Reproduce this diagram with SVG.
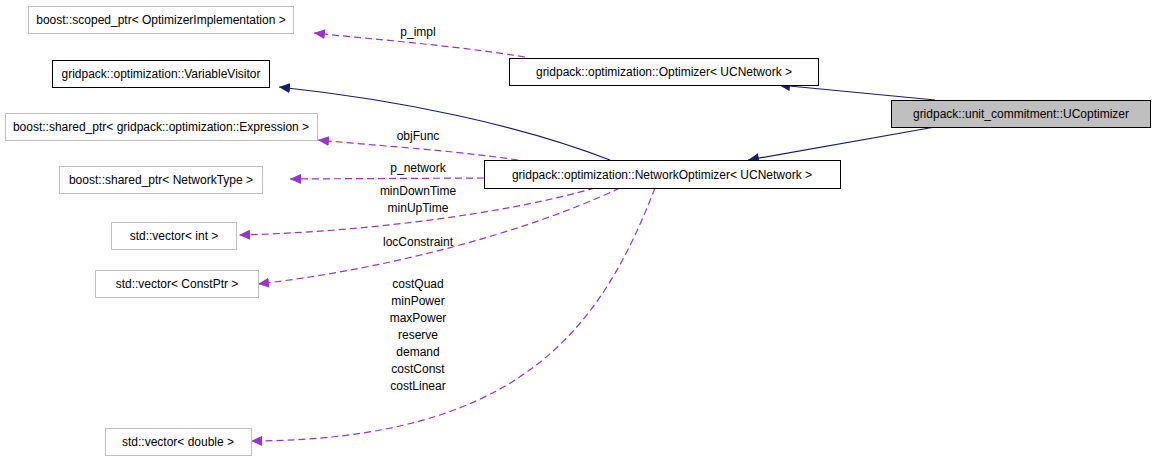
<svg xmlns="http://www.w3.org/2000/svg" width="1157" height="461" viewBox="0 0 1157 461">
<style>
text{font-family:"Liberation Sans",Arial,sans-serif;font-size:12px;fill:#000}
.n{fill:#fff;stroke:#bfbfbf;stroke-width:1}
.b{fill:#fff;stroke:#000;stroke-width:1}
.inh{fill:none;stroke:#191970;stroke-width:1.2}
.use{fill:none;stroke:#9a32cd;stroke-width:1.2;stroke-dasharray:7,4}
.l{text-anchor:middle}
</style>
<defs>
<marker id="ai" markerWidth="12" markerHeight="10" refX="11" refY="5" orient="auto" markerUnits="userSpaceOnUse"><path d="M0,0 L11,5 L0,10 z" fill="#191970"/></marker>
<marker id="au" markerWidth="12" markerHeight="10" refX="11" refY="5" orient="auto" markerUnits="userSpaceOnUse"><path d="M0,0 L11,5 L0,10 z" fill="#9a32cd"/></marker>
</defs>
<rect width="1157" height="461" fill="#fff"/>
<g id="connectors">
<path class="inh" d="M935,100 L779,85" marker-end="url(#ai)"/>
<path class="inh" d="M935,127 L748,160" marker-end="url(#ai)"/>
<path class="inh" d="M610,160 C520,125 400,100 279,87" marker-end="url(#ai)"/>
<path class="use" d="M525,57 C450,45 380,40 314,33" marker-end="url(#au)"/>
<path class="use" d="M518,160 C450,150 380,146 318,140" marker-end="url(#au)"/>
<path class="use" d="M484,178 L290,179" marker-end="url(#au)"/>
<path class="use" d="M595,188 C500,215 360,232 239,235" marker-end="url(#au)"/>
<path class="use" d="M620,188 C520,235 380,270 258,284" marker-end="url(#au)"/>
<path class="use" d="M655,188 C600,330 520,440 251,441" marker-end="url(#au)"/>
</g>
<g id="labels">
<text class="l" x="418" y="36">p_impl</text>
<text class="l" x="418" y="140">objFunc</text>
<text class="l" x="418" y="172">p_network</text>
<text class="l" x="418" y="195">minDownTime</text>
<text class="l" x="418" y="212">minUpTime</text>
<text class="l" x="418" y="246">locConstraint</text>
<text class="l" x="418" y="288">costQuad</text>
<text class="l" x="418" y="305">minPower</text>
<text class="l" x="418" y="322">maxPower</text>
<text class="l" x="418" y="339">reserve</text>
<text class="l" x="418" y="356">demand</text>
<text class="l" x="418" y="373">costConst</text>
<text class="l" x="418" y="390">costLinear</text>
</g>
<g id="n1"><rect class="n" x="28.5" y="6.5" width="265" height="27"/><text class="l" x="161" y="24">boost::scoped_ptr&lt; OptimizerImplementation &gt;</text></g>
<g id="n2"><rect class="b" x="52.5" y="60.5" width="217" height="27"/><text class="l" x="161" y="78">gridpack::optimization::VariableVisitor</text></g>
<g id="n3"><rect class="n" x="5.5" y="113.5" width="312" height="27"/><text class="l" x="161" y="131">boost::shared_ptr&lt; gridpack::optimization::Expression &gt;</text></g>
<g id="n4"><rect class="n" x="59.5" y="166.5" width="203" height="27"/><text class="l" x="161" y="184">boost::shared_ptr&lt; NetworkType &gt;</text></g>
<g id="n5"><rect class="n" x="111.5" y="222.5" width="125" height="27"/><text class="l" x="174" y="240">std::vector&lt; int &gt;</text></g>
<g id="n6"><rect class="n" x="95.5" y="270.5" width="163" height="27"/><text class="l" x="177" y="288">std::vector&lt; ConstPtr &gt;</text></g>
<g id="n7"><rect class="n" x="105.5" y="428.5" width="146" height="27"/><text class="l" x="178" y="446">std::vector&lt; double &gt;</text></g>
<g id="n8"><rect class="b" x="509.5" y="58.5" width="309" height="27"/><text class="l" x="664" y="76">gridpack::optimization::Optimizer&lt; UCNetwork &gt;</text></g>
<g id="n9"><rect fill="#bfbfbf" stroke="#000" x="891.5" y="100.5" width="259" height="27"/><text class="l" x="1021" y="118">gridpack::unit_commitment::UCoptimizer</text></g>
<g id="n10"><rect class="b" x="484.5" y="160.5" width="356" height="28"/><text class="l" x="662" y="179">gridpack::optimization::NetworkOptimizer&lt; UCNetwork &gt;</text></g>
</svg>
